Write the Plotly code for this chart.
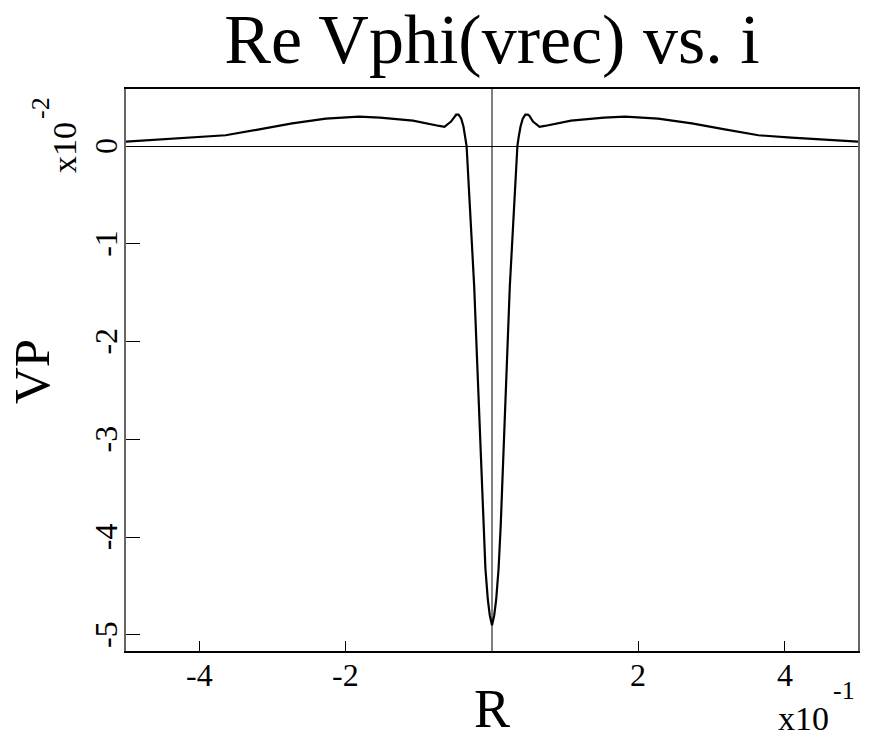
import plotly.graph_objects as go

# R in units of 1e-1, VP in units of 1e-2 (as shown on axes)
r_vals = [-5.0, -4.55, -4.09, -3.64, -3.18, -2.73, -2.27, -1.82, -1.53, -1.08, -0.72, -0.65,
          -0.56, -0.51, -0.49, -0.456, -0.42, -0.39, -0.365, -0.347, -0.3, -0.243, -0.2,
          -0.157, -0.119, -0.09, -0.057, -0.03, 0.0,
          0.03, 0.057, 0.09, 0.119, 0.157, 0.2, 0.243, 0.3, 0.347, 0.365, 0.39, 0.42,
          0.456, 0.49, 0.51, 0.56, 0.65, 0.72, 1.08, 1.53, 1.82, 2.27, 2.73, 3.18, 3.64,
          4.09, 4.55, 5.0]
vp_vals = [0.044, 0.068, 0.085, 0.11, 0.17, 0.232, 0.28, 0.30, 0.29, 0.26, 0.205, 0.197,
           0.25, 0.31, 0.32, 0.32, 0.28, 0.20, 0.095, 0.0, -0.65, -1.44, -2.26,
           -3.08, -3.88, -4.32, -4.64, -4.80, -4.90,
           -4.80, -4.64, -4.32, -3.88, -3.08, -2.26, -1.44, -0.65, 0.0, 0.095, 0.20, 0.28,
           0.32, 0.32, 0.31, 0.25, 0.197, 0.205, 0.26, 0.29, 0.30, 0.28, 0.232, 0.17, 0.11,
           0.085, 0.068, 0.044]

x_tickvals = [-4, -2, 2, 4]
x_ticktext = ["-4", "-2", "2", "4"]
y_tickvals = [0, -1, -2, -3, -4, -5]
y_ticktext = ["0", "-1", "-2", "-3", "-4", "-5"]

FONT = "Liberation Serif"

# plot area in pixels: x 126..858, y 89..651
def px(x):
    return (x - 126) / 732

def py(y):
    return (651 - y) / 562

fig = go.Figure()
fig.add_trace(go.Scatter(x=r_vals, y=vp_vals, mode="lines",
                         line=dict(color="black", width=2.2), showlegend=False))

annotations = [
    dict(text="VP", x=px(32), y=py(372), xref="paper", yref="paper",
         textangle=-90, showarrow=False, xanchor="center", yanchor="middle",
         font=dict(family=FONT, size=51, color="black")),
    dict(text="R", x=0.5, y=py(709), xref="paper", yref="paper",
         showarrow=False, xanchor="center", yanchor="middle",
         font=dict(family=FONT, size=54, color="black")),
    dict(text="x10", x=px(803), y=py(718), xref="paper", yref="paper",
         showarrow=False, xanchor="center", yanchor="middle",
         font=dict(family=FONT, size=34, color="black")),
    dict(text="-1", x=px(844), y=py(690), xref="paper", yref="paper",
         showarrow=False, xanchor="center", yanchor="middle",
         font=dict(family=FONT, size=26, color="black")),
    dict(text="x10", x=px(64), y=py(148), xref="paper", yref="paper",
         showarrow=False, xanchor="center", yanchor="middle", textangle=-90,
         font=dict(family=FONT, size=34, color="black")),
    dict(text="-2", x=px(41), y=py(108), xref="paper", yref="paper",
         showarrow=False, xanchor="center", yanchor="middle", textangle=-90,
         font=dict(family=FONT, size=26, color="black")),
]
# tick labels placed at the axis' own tick values
for v, t in zip(x_tickvals, x_ticktext):
    annotations.append(dict(text=t, x=v, xref="x", y=py(675), yref="paper",
                            showarrow=False, xanchor="center", yanchor="middle",
                            font=dict(family=FONT, size=32, color="black")))
for v, t in zip(y_tickvals, y_ticktext):
    annotations.append(dict(text=t, y=v, yref="y", x=px(106), xref="paper",
                            showarrow=False, xanchor="center", yanchor="middle",
                            textangle=-90,
                            font=dict(family=FONT, size=32, color="black")))

fig.update_layout(
    width=876, height=738,
    margin=dict(l=126, r=18, t=89, b=87, autoexpand=False),
    paper_bgcolor="white", plot_bgcolor="white",
    font=dict(family=FONT, color="black", size=32),
    title=dict(text="Re Vphi(vrec) vs. i", x=0.5, xref="paper", xanchor="center",
               y=1 - 38 / 738, yref="container", yanchor="middle",
               font=dict(family=FONT, size=70, color="black")),
    xaxis=dict(range=[-5, 5], showgrid=False, zeroline=True, zerolinecolor="#808080",
               zerolinewidth=1.5, showline=True, linecolor="black", linewidth=1.5, mirror=True,
               ticks="inside", ticklen=10, tickwidth=1, tickcolor="black",
               tickvals=x_tickvals, showticklabels=False),
    yaxis=dict(range=[-5.164, 0.583], showgrid=False, zeroline=True, zerolinecolor="black",
               zerolinewidth=1, showline=True, linecolor="#666666", linewidth=1.5, mirror=True,
               ticks="inside", ticklen=14, tickwidth=1, tickcolor="black",
               tickvals=y_tickvals, showticklabels=False),
    annotations=annotations,
)

fig.write_html("out.html")
